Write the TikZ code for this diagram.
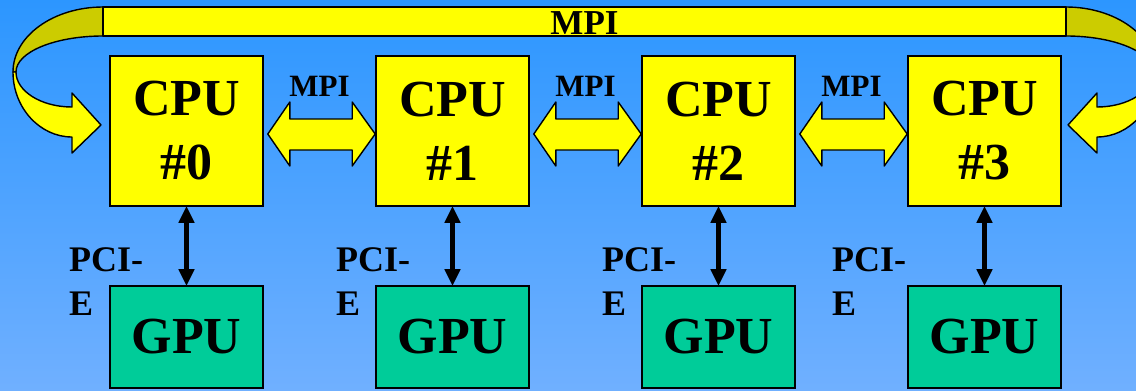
\documentclass[tikz,border=0pt]{standalone}
\usepackage{fontspec}
\setmainfont{Liberation Serif}
\usetikzlibrary{arrows.meta,calc}
\definecolor{bgtop}{RGB}{44,150,255}
\definecolor{bgbot}{RGB}{112,176,255}
\definecolor{cpuyellow}{RGB}{255,255,0}
\definecolor{darkyellow}{RGB}{204,204,0}
\definecolor{gpugreen}{RGB}{0,204,153}
\tikzset{
  box/.style={draw=black, line width=1.6pt, inner sep=0pt, minimum width=153pt},
  cpu/.style={box, fill=cpuyellow, minimum height=150pt, align=center,
    font=\fontsize{52}{64}\selectfont\bfseries},
  gpu/.style={box, fill=gpugreen, minimum height=102pt,
    font=\fontsize{52}{62}\selectfont\bfseries},
  pcie/.style={line width=4.5pt, {Triangle[length=17pt,width=15pt]}-{Triangle[length=17pt,width=15pt]}, shorten <=-1pt, shorten >=-1pt},
  pcilabel/.style={anchor=north west, inner sep=0pt, align=left,
    font=\fontsize{36}{44}\selectfont\bfseries},
  mpilabel/.style={anchor=base, inner sep=0pt, font=\fontsize{31}{36}\selectfont\bfseries},
  ribbon/.style={draw=black, line width=1.4pt, line join=round},
}
\begin{document}
\begin{tikzpicture}[x=1pt,y=-1pt]
\useasboundingbox (0,0) rectangle (1136,391);
\fill[top color=bgtop, bottom color=bgbot] (0,0) rectangle (1136,391);
\clip (0,0) rectangle (1136,391);

% curved end arrows (left and mirrored right)
\foreach \sh/\sx in {0/1,1169/-1} {
  \begin{scope}[shift={(\sh,0)}, xscale=\sx]
    \filldraw[ribbon, fill=darkyellow] (103,7) .. controls (53.5,7) and (13,36) .. (13,72)
      -- (16,72) .. controls (16,52) and (55,36) .. (103,36) -- cycle;
    \filldraw[ribbon, fill=cpuyellow] (13,72) .. controls (13,108) and (40,137) .. (72,137)
      -- (72,153) -- (101,125) -- (72,93) -- (72,107)
      .. controls (41,107) and (16,91) .. (16,72) -- cycle;
  \end{scope}
}

% top MPI bar
\filldraw[ribbon, fill=cpuyellow] (103,7) rectangle (1066,36);
\node[anchor=base, inner sep=0pt, font=\fontsize{35}{40}\selectfont\bfseries] (mpitop) at (584.5,34) {MPI};

% CPUs, GPUs, PCI-E links
\foreach \i/\x in {0/186.5,1/452.5,2/718.5,3/984.5} {
  \node[cpu] (c\i) at (\x,131) {CPU\\\#\i};
  \node[gpu] (g\i) at (\x,337) {GPU};
  \draw[pcie] (c\i.south) -- (g\i.north);
}
\foreach \i/\x in {0/69,1/336,2/602,3/832} {
  \node[pcilabel] (p\i) at (\x,247) {PCI-\\E};
}

% MPI double arrows between neighbouring CPUs
\foreach \a/\b in {0/1,1/2,2/3} {
  \coordinate (l\a) at ($(c\a.east)+(4,3)$);
  \coordinate (r\a) at ($(c\b.west)+(0,3)$);
  \filldraw[ribbon, fill=cpuyellow] (l\a) -- ++(22,-32) -- ++(0,17)
    -- ($(r\a)+(-23,-15)$) -- ++(0,-17) -- (r\a) -- ++(-23,32) -- ++(0,-16)
    -- ($(l\a)+(22,16)$) -- ++(0,16) -- cycle;
  \node[mpilabel] (m\a) at ($(c\a.east)!0.5!(c\b.west)+(0,-35)$) {MPI};
}
\end{tikzpicture}
\end{document}
